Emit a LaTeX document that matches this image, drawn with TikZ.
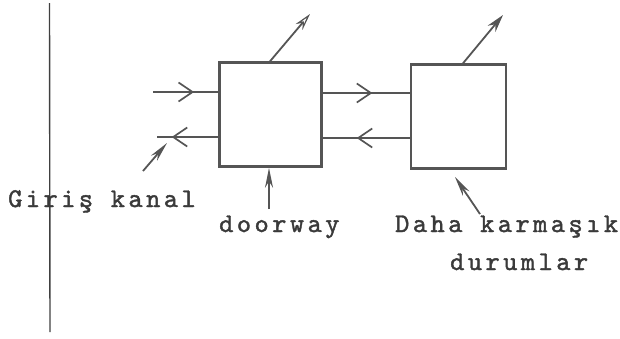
\documentclass[tikz,border=0pt]{standalone}
\usepackage{fontspec}
\newfontfamily\twfont{lmmono10-regular}[Extension=.otf,LetterSpace=13,FakeBold=1.5]
\usetikzlibrary{arrows.meta,decorations.markings}
\definecolor{ink}{HTML}{555555}
\definecolor{txt}{HTML}{3A3A3A}
\tikzset{
  boxk/.style={draw=ink,line width=2.6pt,minimum width=#1,minimum height=104pt,inner sep=0pt},
  flow/.style={draw=ink,line width=1.8pt},
  midv/.style={postaction={decorate},decoration={markings,
     mark=at position #1 with {\arrow[ink]{Straight Barb[length=14pt,width=19pt,line width=1.7pt]}}}},
  pointer/.style={draw=ink,line width=1.8pt,-{Stealth[length=20pt,width=8pt,fill=ink]}},
  lbl/.style={text=txt,inner sep=0pt,font=\twfont\fontsize{27}{32}\selectfont}
}
\begin{document}
\begin{tikzpicture}[x=1pt,y=-1pt]
\useasboundingbox (0,0) rectangle (620,338);
% vertical line
\coordinate (vt) at (49.5,3);
\coordinate (vb) at (50,332);
\draw[draw=black!75,line width=1.4pt] (vt) -- (vb);
% boxes
\node[boxk=102pt] (b1) at (270.5,114.5) {};
\node[boxk=95pt] (b2) at (458.5,116.5) {};
% labels
\node[lbl,anchor=base west] (giris) at (8,207) {Giriş kanal};
\node[lbl,anchor=base west] (door) at (219,232) {doorway};
\node[lbl,anchor=base west] (daha) at (395,232) {Daha karmaşık};
\node[lbl,anchor=base west] (durum) at (450,270) {durumlar};
% left arrows
\coordinate (inL) at (153,92);
\coordinate (outL) at (157,137);
\draw[flow,midv=0.63] (inL) -- (inL -| b1.west);
\draw[flow,midv=0.76] (outL -| b1.west) -- (outL);
% between boxes
\coordinate (m1) at (322,93);
\coordinate (m2) at (322,138);
\draw[flow,midv=0.57] (m1 -| b1.east) -- (m1 -| b2.west);
\draw[flow,midv=0.61] (m2 -| b2.west) -- (m2 -| b1.east);
% top arrows
\coordinate (t1s) at (269,62.5);
\coordinate (t1e) at (310,14);
\draw[draw=ink,line width=1.8pt,-{Stealth[open,length=17pt,width=9pt,line width=1.2pt]}] (t1s) -- (t1e);
\coordinate (t2s) at (462,64.5);
\coordinate (t2e) at (503,15);
\draw[draw=ink,line width=1.8pt,-{Stealth[length=18pt,width=10pt,fill=ink]}] (t2s) -- (t2e);
% pointers
\coordinate (kp) at (143,171);
\coordinate (kq) at (167,143);
\draw[pointer] (kp) -- (kq);
\coordinate (dp) at (269,209);
\draw[pointer] (dp) -- (dp |- b1.south);
\coordinate (cp) at (480,214);
\coordinate (cq) at (455,177);
\draw[pointer] (cp) -- (cq);
\end{tikzpicture}
\end{document}
